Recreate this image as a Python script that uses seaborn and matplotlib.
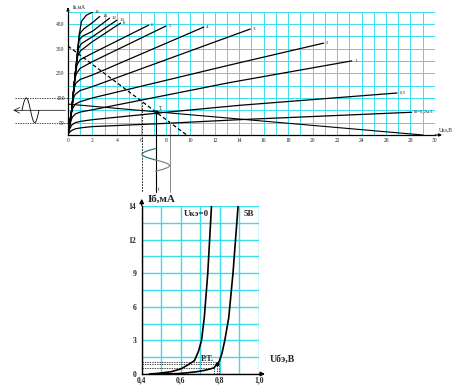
import numpy as np
import pandas as pd
import seaborn as sns
import matplotlib.pyplot as plt

# ---- output characteristics Ik(Uce), one curve per base current ----
ib_names = ['16', '14', '12', '10', '8', '6', '5', '4', '3', '2', '1', '0,5', 'Iб=0,2мА']

uce_16 = [0, 0.3, 0.6, 0.9, 1.1, 1.5, 2.0]
ik_16 = [0, 100, 250, 400, 460, 485, 497]
uce_14 = [0, 0.3, 0.6, 0.95, 1.3, 2.0, 2.6]
ik_14 = [0, 100, 250, 410, 430, 455, 480]
uce_12 = [0, 0.3, 0.6, 0.9, 1.2, 2.0, 3.4]
ik_12 = [0, 100, 250, 385, 400, 420, 473]
uce_10 = [0, 0.3, 0.6, 0.85, 1.1, 2.0, 4.0]
ik_10 = [0, 100, 250, 350, 370, 398, 465]
uce_8 = [0, 0.3, 0.6, 0.8, 1.0, 2.0, 4.3]
ik_8 = [0, 100, 250, 320, 340, 378, 453]
uce_6 = [0, 0.3, 0.6, 0.75, 1.0, 2.0, 6.6]
ik_6 = [0, 100, 250, 285, 305, 331, 445]
uce_5 = [0, 0.3, 0.55, 0.7, 1.0, 2.0, 8.0]
ik_5 = [0, 100, 225, 250, 270, 297, 441]
uce_4 = [0, 0.3, 0.5, 0.65, 1.0, 2.0, 11.1]
ik_4 = [0, 100, 190, 210, 225, 243, 437]
uce_3 = [0, 0.3, 0.45, 0.6, 1.0, 2.0, 14.9]
ik_3 = [0, 100, 150, 165, 180, 196, 429]
uce_2 = [0, 0.25, 0.4, 0.6, 1.0, 2.0, 13.2, 20.9]
ik_2 = [0, 80, 110, 125, 135, 150, 283, 372]
uce_1 = [0, 0.2, 0.35, 0.6, 1.0, 2.0, 13.2, 23.2]
ik_1 = [0, 50, 72, 85, 93, 102, 212, 300]
uce_05 = [0, 0.15, 0.3, 0.6, 1.0, 2.0, 8.0, 14.0, 26.9]
ik_05 = [0, 25, 40, 50, 55, 62, 92, 120, 170]
uce_02 = [0, 0.1, 0.3, 0.6, 1.2, 2.0, 8.0, 14.0, 28.1]
ik_02 = [0, 10, 18, 25, 30, 34, 47, 62, 92]

out_uce = [uce_16, uce_14, uce_12, uce_10, uce_8, uce_6, uce_5, uce_4,
           uce_3, uce_2, uce_1, uce_05, uce_02]
out_ik = [ik_16, ik_14, ik_12, ik_10, ik_8, ik_6, ik_5, ik_4,
          ik_3, ik_2, ik_1, ik_05, ik_02]

# load lines and operating point
dc_load_uce = [0, 9.7]
dc_load_ik = [360, 0]
ac_load_uce = [0, 29]
ac_load_ik = [125, 0]
t_uce, t_ik = 7.16, 94
swing_uce = [6.05, 8.3]
swing_ik = [135, 52]
sig_levels = [150, 50]
sig_center = 100

# ---- input characteristics Ib(Ube) ----
ube_0 = [0.44, 0.48, 0.55, 0.6, 0.64, 0.67, 0.69, 0.706, 0.72, 0.738, 0.757]
ib_0 = [0, 0.05, 0.2, 0.45, 0.85, 1.2, 2.0, 3.0, 5.0, 9.0, 15.0]
ube_5 = [0.5, 0.58, 0.63, 0.68, 0.72, 0.75, 0.77, 0.783, 0.796, 0.81, 0.825, 0.845, 0.867, 0.893]
ib_5 = [0, 0.03, 0.1, 0.2, 0.32, 0.45, 0.55, 0.85, 1.1, 1.8, 3.0, 5.0, 9.0, 15.0]
pt_ube = [0.77, 0.783, 0.796]
pt_ib = [0.55, 0.85, 1.1]

ube_ticks = [0.4, 0.6, 0.8, 1.0]
ube_tick_labels = ['0,4', '0,6', '0,8', '1,0']
ib_ticks = [0, 3, 6, 9, 12, 15]
ib_tick_labels = ['0', '3', '6', '9', '12', '14']

# build long tables for seaborn
out_df = pd.concat([pd.DataFrame({'uce': x, 'ik': y, 'ib': n})
                    for x, y, n in zip(out_uce, out_ik, ib_names)])
in_df = pd.concat([pd.DataFrame({'ube': ube_0, 'ib': ib_0, 'uce': '0'}),
                   pd.DataFrame({'ube': ube_5, 'ib': ib_5, 'uce': '5'})])

sns.set_style('white')
plt.rcParams['font.family'] = ['Liberation Serif', 'DejaVu Serif']

cyan = '#3ADDEE'
fig = plt.figure(figsize=(4.65, 3.86), dpi=100)

# ================= top chart =================
ax = fig.add_axes([0.1462, 0.6503, 0.7892, 0.3199])
ax.set_xlim(0, 30)
ax.set_ylim(0, 500)
ax.set_xticks(range(0, 31, 2))
ax.set_xticks(range(0, 31, 1), minor=True)
ax.set_yticks([50, 150, 250, 350, 450])
ax.set_yticks(range(0, 501, 100), minor=True)
ax.grid(which='both', color=cyan, lw=0.7)
ax.tick_params(axis='both', which='major', labelsize=4, length=1.5, width=0.5, pad=1)
ax.tick_params(axis='both', which='minor', length=0)
for s in ['top', 'right']:
    ax.spines[s].set_visible(False)
for s in ['left', 'bottom']:
    ax.spines[s].set_color('black')
    ax.spines[s].set_linewidth(0.9)

sns.lineplot(data=out_df, x='uce', y='ik', units='ib', estimator=None, sort=False,
             color='black', lw=0.9, ax=ax, legend=False)
ax.set_xlabel('')
ax.set_ylabel('')

for x, y, n in zip(out_uce, out_ik, ib_names):
    ax.text(x[-1] + 0.2, y[-1], n, fontsize=3.5, ha='left', va='center', clip_on=False)

ax.plot(dc_load_uce, dc_load_ik, color='black', lw=0.9, ls=(0, (3, 2)))
ax.plot(ac_load_uce, ac_load_ik, color='black', lw=0.8)
ax.plot([t_uce], [t_ik], 'o', color='black', ms=2)
ax.text(t_uce + 0.3, t_ik + 8, 'Т.', fontsize=4)

# input signal on the left
ax.annotate('', xy=(-4.7, sig_center), xytext=(0, sig_center),
            arrowprops=dict(arrowstyle='->', lw=0.5, color='black'), annotation_clip=False)
for lv in sig_levels:
    ax.plot([-4.3, 0], [lv, lv], color='black', lw=0.5, ls=(0, (2, 1.5)), clip_on=False)
ph = np.linspace(0, 2 * np.pi, 80)
ax.plot(-3.76 + ph / (2 * np.pi) * 1.39, sig_center + 50 * np.sin(ph),
        color='black', lw=0.6, clip_on=False)

# output projection below the axis
ax.plot([swing_uce[0]] * 2, [swing_ik[0], -232], color='black', lw=0.6,
        ls=(0, (2, 1.5)), clip_on=False)
ax.plot([t_uce] * 2, [t_ik, -232], color='black', lw=0.8, clip_on=False)
ax.plot([swing_uce[1]] * 2, [swing_ik[1], -232], color='#888888', lw=0.7, clip_on=False)
hp = np.linspace(0, np.pi, 40)
ax.plot(t_uce - (t_uce - swing_uce[0]) * np.sin(hp), -55 - 46 * hp / np.pi,
        color='#2a7a80', lw=0.9, clip_on=False)
ax.plot(t_uce + (swing_uce[1] - t_uce) * np.sin(hp), -101 - 46 * hp / np.pi,
        color='#888888', lw=0.9, clip_on=False)
ax.text(t_uce + 0.2, -228, 't', fontsize=4)

ax.annotate('', xy=(0, 527), xytext=(0, 498),
            arrowprops=dict(arrowstyle='-|>', lw=0.8, color='black', mutation_scale=4),
            annotation_clip=False)
ax.annotate('', xy=(30.8, 0), xytext=(29.8, 0),
            arrowprops=dict(arrowstyle='-|>', lw=0.8, color='black', mutation_scale=4),
            annotation_clip=False)
ax.text(0.4, 508, 'Iк,мА', fontsize=4, ha='left', va='bottom')
ax.text(30.3, 10, 'Uкэ,В', fontsize=4, ha='left', va='bottom')

# ================= bottom chart =================
bx = fig.add_axes([0.3047, 0.0311, 0.2523, 0.4352])
bx.set_xlim(0.4, 1.0)
bx.set_ylim(0, 15)
bx.set_xticks(ube_ticks)
bx.set_xticklabels(ube_tick_labels)
bx.set_xticks([0.5, 0.7, 0.9], minor=True)
bx.set_yticks(ib_ticks)
bx.set_yticklabels(ib_tick_labels)
bx.set_yticks(np.arange(1.5, 15, 3), minor=True)
bx.grid(which='both', color=cyan, lw=1.0)
bx.tick_params(axis='y', which='major', labelsize=5.5, length=2, width=0.6, pad=2)
bx.tick_params(axis='x', which='major', labelsize=5.5, length=1, width=0.6, pad=0.5)
bx.tick_params(axis='y', which='minor', length=2, width=0.6)
bx.tick_params(axis='x', which='minor', length=0)
for lab in bx.get_xticklabels() + bx.get_yticklabels():
    lab.set_fontweight('bold')
for s in ['top', 'right']:
    bx.spines[s].set_visible(False)
for s in ['left', 'bottom']:
    bx.spines[s].set_color('black')
    bx.spines[s].set_linewidth(1.0)

sns.lineplot(data=in_df, x='ube', y='ib', units='uce', estimator=None, sort=False,
             color='black', lw=1.2, ax=bx, legend=False)
bx.set_xlabel('')
bx.set_ylabel('')

for x, y in zip(pt_ube, pt_ib):
    bx.plot([0.4, x], [y, y], color='black', lw=0.5, ls=(0, (2, 1.5)))
    bx.plot([x, x], [0, y], color='black', lw=0.5, ls=(0, (2, 1.5)))
bx.plot([pt_ube[1]], [pt_ib[1]], 'o', color='black', ms=1.8)
bx.text(0.70, 0.95, 'Р.Т.', fontsize=6, fontweight='bold', va='bottom')

bx.annotate('', xy=(0.4, 15.9), xytext=(0.4, 14.8),
            arrowprops=dict(arrowstyle='-|>', lw=1.0, color='black', mutation_scale=6),
            annotation_clip=False)
bx.annotate('', xy=(1.045, 0), xytext=(0.99, 0),
            arrowprops=dict(arrowstyle='-|>', lw=1.0, color='black', mutation_scale=6),
            annotation_clip=False)
bx.text(0.43, 15.6, 'Iб,мА', fontsize=8, fontweight='bold', va='center', clip_on=False)
bx.text(0.745, 14.3, 'Uкэ=0', fontsize=6.5, fontweight='bold', ha='right', va='center')
bx.text(0.92, 14.3, '5В', fontsize=6.5, fontweight='bold', ha='left', va='center')
bx.text(1.055, 0.9, 'Uбэ,В', fontsize=7, fontweight='bold', ha='left', va='bottom',
        clip_on=False)

fig.savefig('out.png', dpi=100)
plt.close(fig)
